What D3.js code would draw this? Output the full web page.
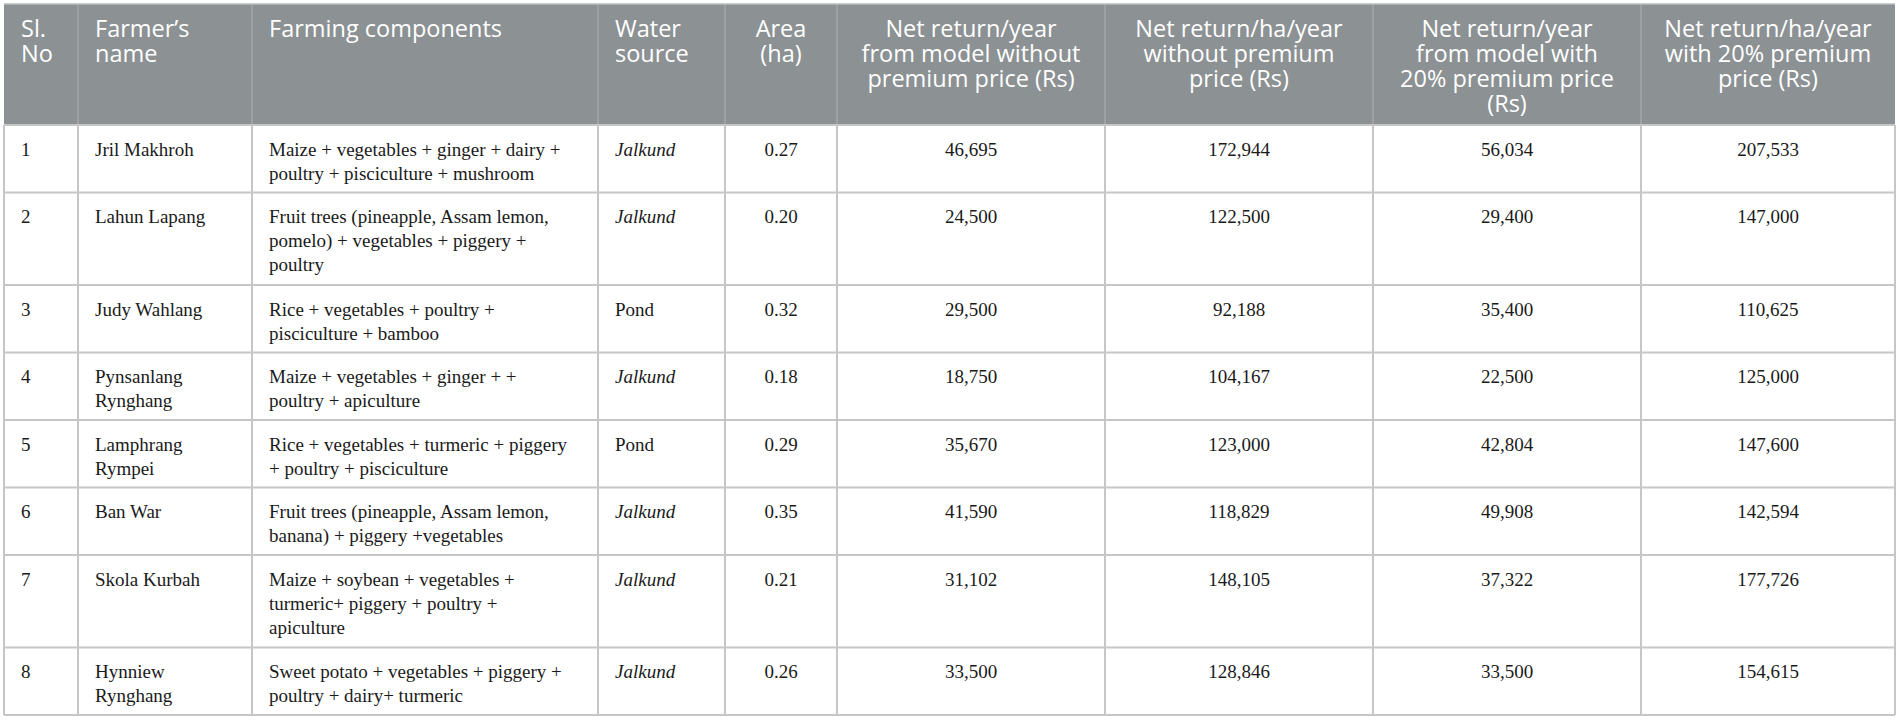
<!DOCTYPE html>
<html>
<head>
<meta charset="utf-8">
<script src="https://cdn.jsdelivr.net/npm/d3@7"></script>
<style>
  html, body { margin: 0; padding: 0; background: #ffffff; }
  svg { display: block; }
</style>
</head>
<body>
<svg id="chart" width="1900" height="721"></svg>
<script>
// ---------- DATA ----------
const headers = [
  "Sl.\nNo",
  "Farmer’s\nname",
  "Farming components",
  "Water\nsource",
  "Area\n(ha)",
  "Net return/year\nfrom model without\npremium price (Rs)",
  "Net return/ha/year\nwithout premium\nprice (Rs)",
  "Net return/year\nfrom model with\n20% premium price\n(Rs)",
  "Net return/ha/year\nwith 20% premium\nprice (Rs)"
];
const slNo = [1, 2, 3, 4, 5, 6, 7, 8];
const farmers = [
  "Jril Makhroh",
  "Lahun Lapang",
  "Judy Wahlang",
  "Pynsanlang\nRynghang",
  "Lamphrang\nRympei",
  "Ban War",
  "Skola Kurbah",
  "Hynniew\nRynghang"
];
const components = [
  "Maize + vegetables + ginger + dairy +\npoultry + pisciculture + mushroom",
  "Fruit trees (pineapple, Assam lemon,\npomelo) + vegetables + piggery +\npoultry",
  "Rice + vegetables + poultry +\npisciculture + bamboo",
  "Maize + vegetables + ginger + +\npoultry + apiculture",
  "Rice + vegetables + turmeric + piggery\n+ poultry + pisciculture",
  "Fruit trees (pineapple, Assam lemon,\nbanana) + piggery +vegetables",
  "Maize + soybean + vegetables +\nturmeric+ piggery + poultry +\napiculture",
  "Sweet potato + vegetables + piggery +\npoultry + dairy+ turmeric"
];
const waterSources = ["Jalkund", "Jalkund", "Pond", "Jalkund", "Pond", "Jalkund", "Jalkund", "Jalkund"];
const areas = [0.27, 0.20, 0.32, 0.18, 0.29, 0.35, 0.21, 0.26];
const netYearWithout = [46695, 24500, 29500, 18750, 35670, 41590, 31102, 33500];
const netHaWithout = [172944, 122500, 92188, 104167, 123000, 118829, 148105, 128846];
const netYearWith = [56034, 29400, 35400, 22500, 42804, 49908, 37322, 33500];
const netHaWith = [207533, 147000, 110625, 125000, 147600, 142594, 177726, 154615];

// ---------- LAYOUT ----------
const colWidths = [74, 174, 346, 127, 112, 268, 268, 268, 254];
const colAlign  = ["start", "start", "start", "start", "middle", "middle", "middle", "middle", "middle"];
const x0 = 4, y0 = 4;
const headerH = 121;
const pad = 17;
const bodyLine = 24;
const headLine = 25;

const fmtInt = d3.format(",");
const fmtArea = d3.format(".2f");

const rows = slNo.map((s, i) => [
  String(s),
  farmers[i],
  components[i],
  waterSources[i],
  fmtArea(areas[i]),
  fmtInt(netYearWithout[i]),
  fmtInt(netHaWithout[i]),
  fmtInt(netYearWith[i]),
  fmtInt(netHaWith[i])
]);

const rowLines = rows.map(r => d3.max(r, c => c.split("\n").length));
const rowHeights = rowLines.map(n => 17.5 + 25 * n);

const colEdges = [x0, ...d3.cumsum(colWidths).map(v => x0 + v)];
const rowEdges = [y0, y0 + headerH, ...d3.cumsum(rowHeights).map(v => y0 + headerH + v)];

const xCol = d3.scaleOrdinal().domain(d3.range(colWidths.length)).range(colEdges.slice(0, -1));
const yRow = d3.scaleOrdinal().domain(d3.range(rows.length)).range(rowEdges.slice(1, -1));

const tableW = colEdges[colEdges.length - 1] - x0;
const tableBottom = rowEdges[rowEdges.length - 1];

const svg = d3.select("#chart");

// header background
svg.append("rect")
  .attr("x", x0).attr("y", y0)
  .attr("width", tableW).attr("height", headerH)
  .attr("fill", "#8c9194");

// header vertical separators
svg.append("g").selectAll("line")
  .data(colEdges.slice(1, -1))
  .join("line")
  .attr("x1", d => d).attr("x2", d => d)
  .attr("y1", y0).attr("y2", y0 + headerH)
  .attr("stroke", "#a3a7aa").attr("stroke-width", 1.5);

// body vertical separators
svg.append("g").selectAll("line")
  .data(colEdges)
  .join("line")
  .attr("x1", d => d).attr("x2", d => d)
  .attr("y1", y0 + headerH).attr("y2", tableBottom)
  .attr("stroke", "#c6c6c6").attr("stroke-width", 2);

// horizontal separators
svg.append("g").selectAll("line")
  .data(rowEdges.slice(1))
  .join("line")
  .attr("x1", x0).attr("x2", x0 + tableW)
  .attr("y1", d => d).attr("y2", d => d)
  .attr("stroke", "#c6c6c6").attr("stroke-width", 2);

// top border line
svg.append("line")
  .attr("x1", x0).attr("x2", x0 + tableW)
  .attr("y1", y0).attr("y2", y0)
  .attr("stroke", "#b9bcbe").attr("stroke-width", 1.5);

function anchorX(ci) {
  return colAlign[ci] === "middle" ? xCol(ci) + colWidths[ci] / 2 : xCol(ci) + pad;
}

// header text
const hg = svg.append("g")
  .attr("font-family", "'Open Sans', 'Noto Sans', sans-serif")
  .attr("font-size", 23.5)
  .attr("fill", "#ffffff");

headers.forEach((h, ci) => {
  const t = hg.append("text")
    .attr("text-anchor", colAlign[ci])
    .attr("x", anchorX(ci))
    .attr("y", y0 + 33);
  h.split("\n").forEach((ln, li) => {
    t.append("tspan")
      .attr("x", anchorX(ci))
      .attr("y", y0 + 33 + li * headLine)
      .text(ln);
  });
});

// body text
const bg = svg.append("g")
  .attr("font-family", "'Liberation Serif', 'Times New Roman', serif")
  .attr("font-size", 19)
  .attr("fill", "#1a1a1a");

rows.forEach((r, ri) => {
  r.forEach((cell, ci) => {
    const t = bg.append("text")
      .attr("text-anchor", colAlign[ci])
      .attr("font-style", ci === 3 && cell === "Jalkund" ? "italic" : null)
      .attr("x", anchorX(ci))
      .attr("y", yRow(ri) + 30.5);
    cell.split("\n").forEach((ln, li) => {
      t.append("tspan")
        .attr("x", anchorX(ci))
        .attr("y", yRow(ri) + 30.5 + li * bodyLine)
        .text(ln);
    });
  });
});
</script>
</body>
</html>
